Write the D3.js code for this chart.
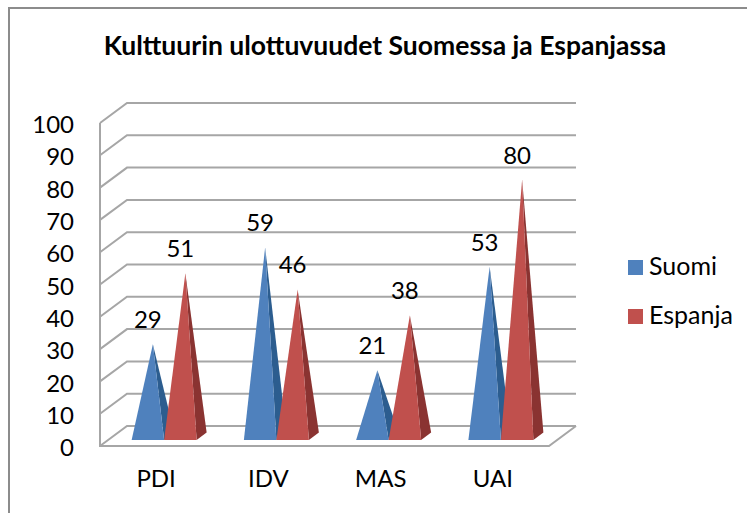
<!DOCTYPE html>
<html>
<head>
<meta charset="utf-8">
<script src="https://cdn.jsdelivr.net/npm/d3@7"></script>
<style>
  html, body { margin: 0; padding: 0; background: #fff; }
  svg { display: block; }
  text { font-family: Lato, "Open Sans", sans-serif; fill: #000; }
</style>
</head>
<body>
<div id="chart"></div>
<script>
const title = 'Kulttuurin ulottuvuudet Suomessa ja Espanjassa';
const categories = ['PDI', 'IDV', 'MAS', 'UAI'];
const seriesNames = ['Suomi', 'Espanja'];
const suomi = [29, 59, 21, 53];
const espanja = [51, 46, 38, 80];
const yTicks = [0, 10, 20, 30, 40, 50, 60, 70, 80, 90, 100];

const width = 747;
const height = 513;

// 3D offsets, chart floor and one pyramid base
const wallDx = 27, wallDy = -20;
const baseDx = 10, baseDy = -7.5;
const baseLift = 8; // front edge of the bases sits this far above the front axis
const frontColors = ['#4f81bd', '#c0504d'];
const sideColors = ['#2c5d8f', '#8a3331'];

const svg = d3.select('#chart').append('svg')
  .attr('width', width)
  .attr('height', height);

// the frame is cropped: only its left and top edges are in the picture
svg.append('path')
  .attr('d', `M9,${height}V8H${width}`)
  .attr('fill', 'none')
  .attr('stroke', '#8c8c8c')
  .attr('stroke-width', 2);

svg.append('text')
  .attr('x', 385).attr('y', 55)
  .attr('text-anchor', 'middle')
  .style('font-size', '26.5px')
  .style('font-weight', 700)
  .text(title);

const y = d3.scaleLinear().domain([0, 100]).range([446, 123]);
const x = d3.scaleBand().domain(categories).range([100, 549]);
const xSeries = d3.scaleBand().domain(seriesNames).range([0, 65]);

// walls and floor
const grid = svg.append('g')
  .attr('fill', 'none')
  .attr('stroke', '#a6a6a6')
  .attr('stroke-width', 2);

grid.selectAll('path.gridline')
  .data(yTicks)
  .enter().append('path')
  .attr('class', 'gridline')
  .attr('d', d => `M${x.range()[0]},${y(d)}L${x.range()[0] + wallDx},${y(d) + wallDy}L${x.range()[1] + wallDx},${y(d) + wallDy}`);

grid.append('path')
  .attr('d', `M${x.range()[0]},${y(100)}V${y(0)}H${x.range()[1]}L${x.range()[1] + wallDx},${y(0) + wallDy}`);

// pyramids
const points = [];
categories.forEach((c, i) => {
  points.push({ cat: c, s: 0, value: suomi[i] });
  points.push({ cat: c, s: 1, value: espanja[i] });
});

const bar = svg.append('g').selectAll('g')
  .data(points)
  .enter().append('g');

const left = d => x(d.cat) + x.bandwidth() / 2 + 8 - xSeries.bandwidth() + d.s * xSeries.bandwidth();
const right = d => left(d) + xSeries.bandwidth();
const apexX = d => left(d) + xSeries.bandwidth() / 2 + baseDx / 2;
const apexY = d => y(d.value) - baseLift;
const baseY = y(0) - 6;

bar.append('path')
  .attr('fill', d => sideColors[d.s])
  .attr('d', d => `M${right(d)},${baseY}L${right(d) + baseDx},${baseY + baseDy}L${apexX(d)},${apexY(d)}Z`);

bar.append('path')
  .attr('fill', d => frontColors[d.s])
  .attr('d', d => `M${left(d)},${baseY}L${right(d)},${baseY}L${apexX(d)},${apexY(d)}Z`);

bar.append('text')
  .attr('x', d => apexX(d) - 5)
  .attr('y', d => apexY(d) - 16)
  .attr('text-anchor', 'middle')
  .style('font-size', '24px')
  .text(d => d.value);

// axes
const yAxis = svg.append('g')
  .attr('transform', 'translate(77,2)')
  .call(d3.axisLeft(y).tickValues(yTicks).tickSize(0));
yAxis.select('.domain').remove();
yAxis.selectAll('text')
  .style('font-size', '24px')
  .style('font-family', 'Lato');

const xAxis = svg.append('g')
  .attr('transform', 'translate(0,467)')
  .call(d3.axisBottom(x).tickSize(0));
xAxis.select('.domain').remove();
xAxis.selectAll('text')
  .style('font-size', '24px')
  .style('font-family', 'Lato');

// legend
const legend = svg.append('g').selectAll('g')
  .data(seriesNames)
  .enter().append('g')
  .attr('transform', (d, i) => `translate(628,${260 + i * 49})`);

legend.append('rect')
  .attr('width', 15).attr('height', 15)
  .attr('fill', (d, i) => frontColors[i]);

legend.append('text')
  .attr('x', 21).attr('y', 15)
  .style('font-size', '25px')
  .text(d => d);
</script>
</body>
</html>
